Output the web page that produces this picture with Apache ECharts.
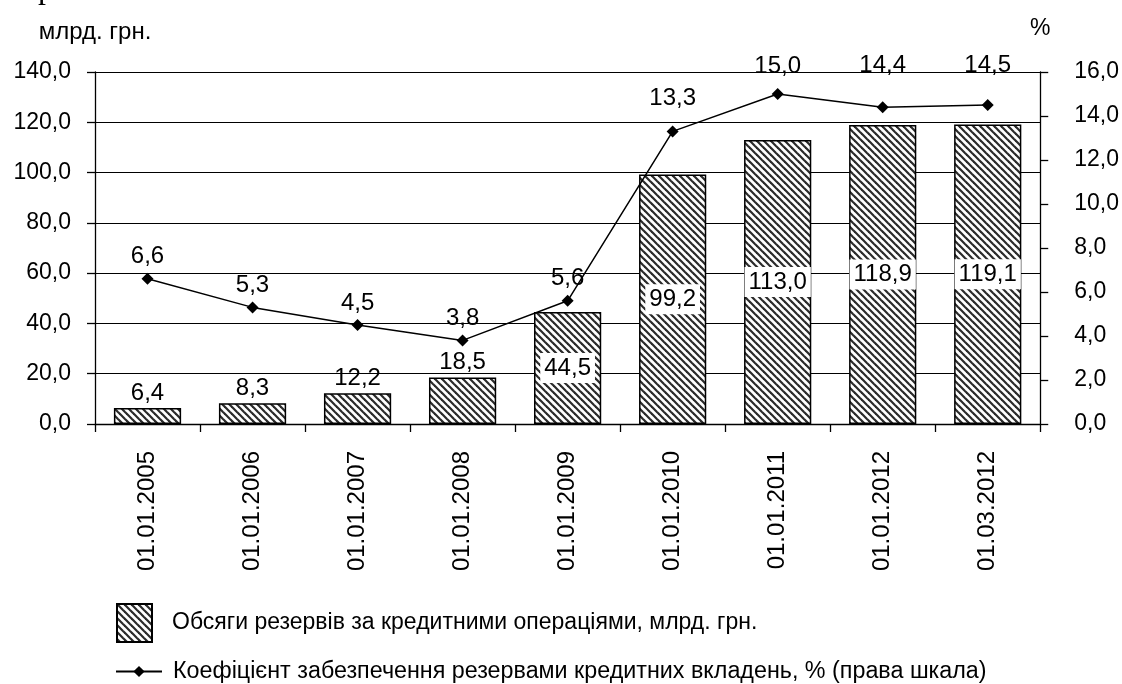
<!DOCTYPE html>
<html>
<head>
<meta charset="utf-8">
<script src="https://cdn.jsdelivr.net/npm/echarts@6/dist/echarts.min.js"></script>
<style>
  html, body { margin: 0; padding: 0; background: #ffffff; }
  #chart { width: 1122px; height: 684px; }
</style>
</head>
<body>
<div id="chart"></div>
<script>
// дані
var dates = ['01.01.2005', '01.01.2006', '01.01.2007', '01.01.2008', '01.01.2009',
             '01.01.2010', '01.01.2011', '01.01.2012', '01.03.2012'];
var reserves = [6.4, 8.3, 12.2, 18.5, 44.5, 99.2, 113.0, 118.9, 119.1];
var coverage = [6.6, 5.3, 4.5, 3.8, 5.6, 13.3, 15.0, 14.4, 14.5];
var barName = 'Обсяги резервів за кредитними операціями, млрд. грн.';
var lineName = 'Коефіцієнт забезпечення резервами кредитних вкладень, % (права шкала)';

var FONT = 'Liberation Sans';

function fmt(v) {
  return v.toFixed(1).replace('.', ',');
}

// штриховка для стовпців
function hatch() {
  var s = 7;
  var c = document.createElement('canvas');
  c.width = s; c.height = s;
  var ctx = c.getContext('2d');
  ctx.fillStyle = '#ffffff';
  ctx.fillRect(0, 0, s, s);
  ctx.strokeStyle = '#2a2a2a';
  ctx.lineWidth = 2.2;
  [-s, 0, s].forEach(function (o) {
    ctx.beginPath();
    ctx.moveTo(o - 1, -1);
    ctx.lineTo(o + s + 1, s + 1);
    ctx.stroke();
  });
  return c;
}

var pattern = { image: hatch(), repeat: 'repeat' };

var barData = reserves.map(function (v, i) {
  var item = { value: v };
  if (v > 30) {
    item.label = {
      position: 'inside',
      backgroundColor: '#ffffff',
      padding: [4, 4, 2, 4]
    };
  }
  return item;
});

// підписи точок, що в оригіналі підняті вище
var labelLift = { 5: 15, 6: 10, 7: 24, 8: 22 };
var lineData = coverage.map(function (v, i) {
  var item = { value: v };
  if (labelLift[i] != null) {
    item.label = { distance: labelLift[i] };
  }
  return item;
});

var myChart = echarts.init(document.getElementById('chart'));
myChart.setOption({
  animation: false,
  backgroundColor: '#ffffff',
  textStyle: { fontFamily: FONT, color: '#000' },
  graphic: [{
    type: 'text',
    left: 38,
    top: -26,
    style: { text: 'р', font: '32px "Liberation Serif"', fill: '#000' }
  }],
  legend: [{
    data: [{ name: barName, icon: 'rect' }],
    orient: 'vertical',
    left: 116,
    top: 603,
    padding: 0,
    itemWidth: 35,
    itemHeight: 38,
    textStyle: { fontFamily: FONT, fontSize: 23, color: '#000', padding: [12, 0, 0, 15] }
  }, {
    data: [lineName],
    orient: 'vertical',
    left: 115,
    top: 660,
    padding: 0,
    itemWidth: 46,
    itemHeight: 14,
    textStyle: { fontFamily: FONT, fontSize: 23.3, color: '#000', padding: [0, 0, 0, 6] }
  }],
  grid: {
    left: 95,
    right: 81,
    top: 72,
    bottom: 260,
    containLabel: false
  },
  xAxis: [{
    type: 'category',
    data: dates,
    axisLine: { lineStyle: { color: '#000', width: 1.3 } },
    axisTick: { show: true, length: 8, lineStyle: { color: '#000', width: 1.3 } },
    axisLabel: {
      rotate: 90,
      margin: 27,
      fontFamily: FONT,
      fontSize: 24,
      color: '#000'
    }
  }],
  yAxis: [{
    type: 'value',
    min: 0,
    max: 140,
    interval: 20,
    name: 'млрд. грн.',
    nameLocation: 'end',
    nameGap: 28,
    nameTextStyle: { fontFamily: FONT, fontSize: 24, color: '#000', align: 'center' },
    axisLine: { show: true, lineStyle: { color: '#000', width: 1.3 } },
    axisTick: { show: true, length: 8, lineStyle: { color: '#000', width: 1.3 } },
    axisLabel: {
      margin: 24,
      fontFamily: FONT,
      fontSize: 23,
      color: '#000',
      formatter: fmt
    },
    splitLine: { show: true, lineStyle: { color: '#000', width: 1.2 } }
  }, {
    type: 'value',
    min: 0,
    max: 16,
    interval: 2,
    name: '%',
    nameLocation: 'end',
    nameGap: 32,
    nameTextStyle: { fontFamily: FONT, fontSize: 23, color: '#000', align: 'center' },
    position: 'right',
    axisLine: { show: true, lineStyle: { color: '#000', width: 1.3 } },
    axisTick: { show: true, length: 8, lineStyle: { color: '#000', width: 1.3 } },
    axisLabel: {
      margin: 34,
      fontFamily: FONT,
      fontSize: 23,
      color: '#000',
      formatter: fmt
    },
    splitLine: { show: false }
  }],
  series: [{
    name: barName,
    type: 'bar',
    barWidth: '64%',
    data: barData,
    itemStyle: {
      color: pattern,
      borderColor: '#000',
      borderWidth: 1.5
    },
    label: {
      show: true,
      position: 'top',
      distance: 3,
      fontFamily: FONT,
      fontSize: 24,
      color: '#000',
      formatter: function (p) { return fmt(p.value); }
    }
  }, {
    name: lineName,
    type: 'line',
    yAxisIndex: 1,
    data: lineData,
    symbol: 'diamond',
    symbolSize: 12,
    showAllSymbol: true,
    lineStyle: { color: '#000', width: 1.5 },
    itemStyle: { color: '#000' },
    label: {
      show: true,
      position: 'top',
      distance: 4,
      fontFamily: FONT,
      fontSize: 24,
      color: '#000',
      formatter: function (p) { return fmt(p.value); }
    },
    z: 5
  }]
});
</script>
</body>
</html>
